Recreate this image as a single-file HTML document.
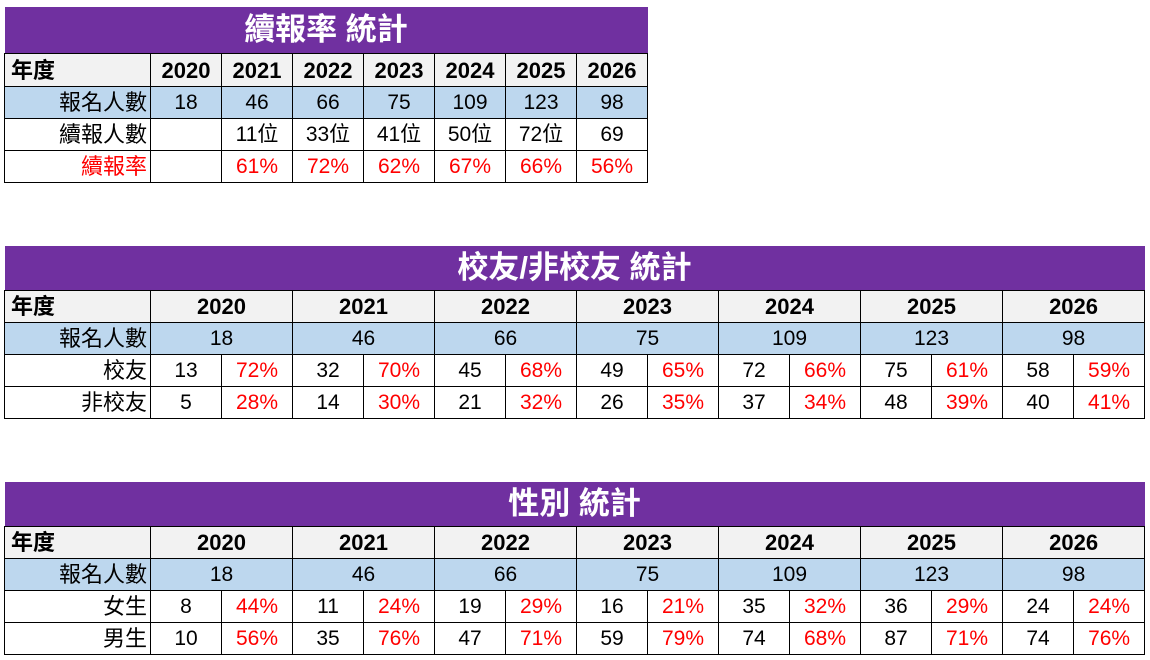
<!DOCTYPE html>
<html><head><meta charset="utf-8"><style>
body{margin:0;width:1150px;height:660px;background:#fff;position:relative;overflow:hidden;font-family:"Liberation Sans","Noto Sans CJK TC",sans-serif;}
table{position:absolute;left:4px;border-collapse:collapse;table-layout:fixed;}
td{border:1px solid #000;padding:0;text-align:center;font-size:21px;color:#000;height:31px;line-height:31px;white-space:nowrap;overflow:hidden;}
td.t{background:#7030A0;color:#fff;font-weight:bold;font-size:31px;height:44px;line-height:44px;border:none;}
tr.h td{background:#F2F2F2;font-weight:bold;font-size:22px;}
tr.h td.l{text-align:left;padding-left:6px;}
tr.b td{background:#BDD7EE;}
td.l{text-align:right;padding-right:3px;font-size:22px;}
.r{color:#f00;}
#t1 td.t{height:46px;line-height:46px;}
#t1 tr.h td{height:32px;}
</style></head><body>
<table id="t1" style="top:7px;width:643px">
<colgroup><col style="width:146px"><col span="7" style="width:71px"></colgroup>
<tr><td class="t" colspan="8">續報率 統計</td></tr>
<tr class="h"><td class="l">年度</td><td>2020</td><td>2021</td><td>2022</td><td>2023</td><td>2024</td><td>2025</td><td>2026</td></tr>
<tr class="b"><td class="l">報名人數</td><td>18</td><td>46</td><td>66</td><td>75</td><td>109</td><td>123</td><td>98</td></tr>
<tr><td class="l">續報人數</td><td></td><td>11位</td><td>33位</td><td>41位</td><td>50位</td><td>72位</td><td>69</td></tr>
<tr class="r"><td class="l r">續報率</td><td></td><td class="r">61%</td><td class="r">72%</td><td class="r">62%</td><td class="r">67%</td><td class="r">66%</td><td class="r">56%</td></tr>
</table>

<table style="top:246px;width:1140px">
<colgroup><col style="width:146px"><col span="14" style="width:71px"></colgroup>
<tr><td class="t" colspan="15">校友/非校友 統計</td></tr>
<tr class="h"><td class="l">年度</td><td colspan="2">2020</td><td colspan="2">2021</td><td colspan="2">2022</td><td colspan="2">2023</td><td colspan="2">2024</td><td colspan="2">2025</td><td colspan="2">2026</td></tr>
<tr class="b"><td class="l">報名人數</td><td colspan="2">18</td><td colspan="2">46</td><td colspan="2">66</td><td colspan="2">75</td><td colspan="2">109</td><td colspan="2">123</td><td colspan="2">98</td></tr>
<tr><td class="l">校友</td><td>13</td><td class="r">72%</td><td>32</td><td class="r">70%</td><td>45</td><td class="r">68%</td><td>49</td><td class="r">65%</td><td>72</td><td class="r">66%</td><td>75</td><td class="r">61%</td><td>58</td><td class="r">59%</td></tr>
<tr><td class="l">非校友</td><td>5</td><td class="r">28%</td><td>14</td><td class="r">30%</td><td>21</td><td class="r">32%</td><td>26</td><td class="r">35%</td><td>37</td><td class="r">34%</td><td>48</td><td class="r">39%</td><td>40</td><td class="r">41%</td></tr>
</table>

<table style="top:482px;width:1140px">
<colgroup><col style="width:146px"><col span="14" style="width:71px"></colgroup>
<tr><td class="t" colspan="15">性別 統計</td></tr>
<tr class="h"><td class="l">年度</td><td colspan="2">2020</td><td colspan="2">2021</td><td colspan="2">2022</td><td colspan="2">2023</td><td colspan="2">2024</td><td colspan="2">2025</td><td colspan="2">2026</td></tr>
<tr class="b"><td class="l">報名人數</td><td colspan="2">18</td><td colspan="2">46</td><td colspan="2">66</td><td colspan="2">75</td><td colspan="2">109</td><td colspan="2">123</td><td colspan="2">98</td></tr>
<tr><td class="l">女生</td><td>8</td><td class="r">44%</td><td>11</td><td class="r">24%</td><td>19</td><td class="r">29%</td><td>16</td><td class="r">21%</td><td>35</td><td class="r">32%</td><td>36</td><td class="r">29%</td><td>24</td><td class="r">24%</td></tr>
<tr><td class="l">男生</td><td>10</td><td class="r">56%</td><td>35</td><td class="r">76%</td><td>47</td><td class="r">71%</td><td>59</td><td class="r">79%</td><td>74</td><td class="r">68%</td><td>87</td><td class="r">71%</td><td>74</td><td class="r">76%</td></tr>
</table>
</body></html>
